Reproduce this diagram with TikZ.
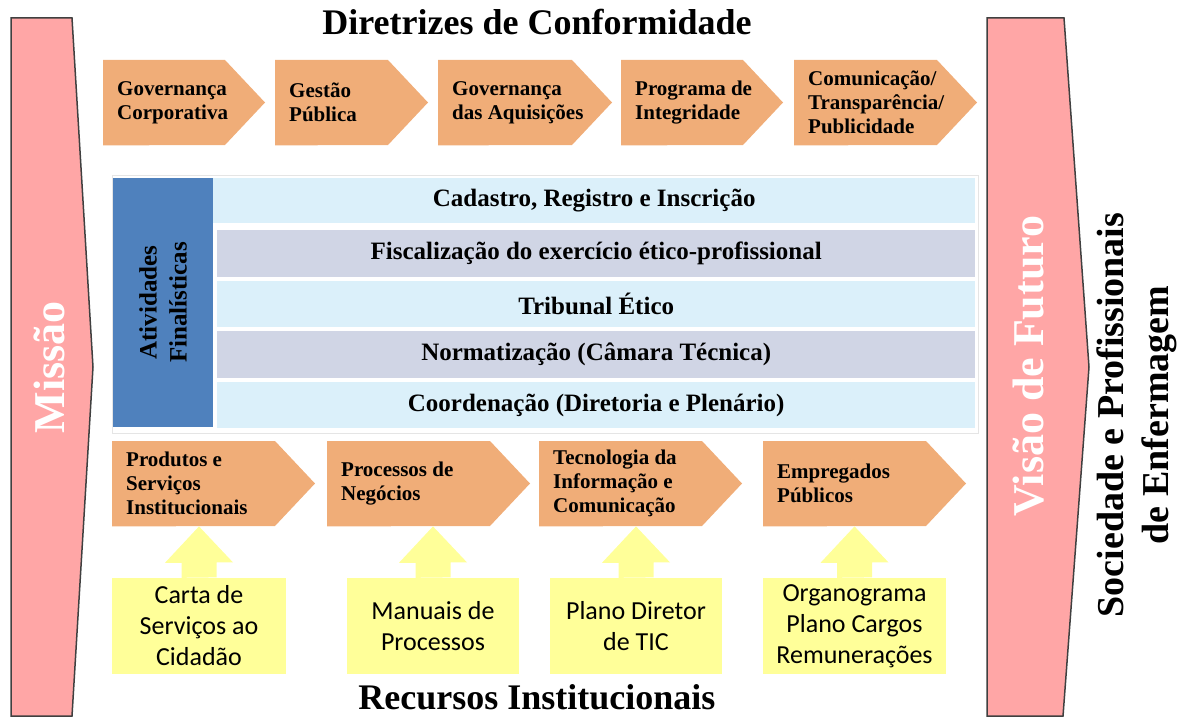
\documentclass[tikz,border=0pt]{standalone}
\usepackage{fontspec}
\setmainfont{Liberation Serif}
\newfontfamily\calibfont{Carlito}
\usetikzlibrary{backgrounds}

\definecolor{rosa}{HTML}{FFA6A6}
\definecolor{borda}{HTML}{404040}
\definecolor{laranja}{HTML}{F0AD78}
\definecolor{amarelo}{HTML}{FFFF99}
\definecolor{azul}{HTML}{4F81BD}
\definecolor{claro}{HTML}{DBF0FA}
\definecolor{escuro}{HTML}{D0D5E5}

\begin{document}
\begin{tikzpicture}[x=1pt,y=-1pt]

\tikzstyle lateral=[rotate=90, text=white, font=\bfseries\fontsize{44}{50}\selectfont]
\tikzstyle titulo=[anchor=base, inner sep=0, font=\bfseries\fontsize{36}{40}\selectfont]
\tikzstyle chev=[anchor=north west, minimum height=85, inner xsep=14, inner ysep=0, align=left, font=\bfseries\fontsize{21}{24}\selectfont]
\tikzstyle linha=[anchor=north west, inner sep=0, font=\bfseries\fontsize{25}{30}\selectfont]
\tikzstyle recurso=[minimum height=96, inner sep=0, fill=amarelo, align=center, font=\calibfont\fontsize{26}{31}\selectfont]

\useasboundingbox (0,0) rectangle (1180,717);

% setas laterais
\filldraw[fill=rosa, draw=borda, line width=1.5] (11,18) -- (72,18) -- (93,367) -- (72,716) -- (11,716) -- cycle;
\filldraw[fill=rosa, draw=borda, line width=1.5] (987,18) -- (1064,18) -- (1089,367) -- (1063,716) -- (987,716) -- cycle;
\node (missao) [lateral] at (49,367) {Missão};
\node (visao) [lateral] at (1028,366) {Visão de Futuro};
\node (sociedade) [rotate=90, align=center, font=\bfseries\fontsize{38}{45}\selectfont] at (1137,415) {Sociedade e Profissionais\\de Enfermagem};

\node (diretrizes) [titulo] at (537,35) {Diretrizes de Conformidade};
\node (recursos) [titulo] at (537,709) {Recursos Institucionais};

% diretrizes
\node (d1) [chev] at (103,60) {Governança\\Corporativa};
\node (d2) [chev] at (275,60) {Gestão\\Pública};
\node (d3) [chev] at (438,60) {Governança\\das Aquisições};
\node (d4) [chev] at (621,60) {Programa de\\Integridade};
\node (d5) [chev] at (794,60) {Comunicação/\\Transparência/\\Publicidade};

% atividades finalisticas
\draw[gray!20] (112,175) rectangle (978,433);
\node (ativ) [rotate=90, minimum width=249, minimum height=100, fill=azul, align=center, font=\bfseries\fontsize{25}{30}\selectfont] at (163,302.5) {Atividades\\Finalísticas};
\node (r1) [linha, fill=claro, minimum width=762, minimum height=45] at (213,178) {Cadastro, Registro e Inscrição};
\node (r2) [linha, fill=escuro, minimum width=758, minimum height=47] at (217,230) {Fiscalização do exercício ético-profissional};
\node (r3) [linha, fill=claro, minimum width=758, minimum height=46] at (217,281) {Tribunal Ético};
\node (r4) [linha, fill=escuro, minimum width=758, minimum height=47] at (217,331) {Normatização (Câmara Técnica)};
\node (r5) [linha, fill=claro, minimum width=758, minimum height=46] at (217,382) {Coordenação (Diretoria e Plenário)};

% recursos
\node (p1) [chev] at (112,441) {Produtos e\\Serviços\\Institucionais};
\node (p2) [chev] at (327,441) {Processos de\\Negócios};
\node (p3) [chev] at (539,441) {Tecnologia da\\Informação e\\Comunicação};
\node (p4) [chev] at (763,441) {Empregados\\Públicos};

\node (y1) [recurso, minimum width=174] at (199,626) {Carta de\\Serviços ao\\Cidadão};
\node (y2) [recurso, minimum width=172] at (433,626) {Manuais de\\Processos};
\node (y3) [recurso, minimum width=172] at (636,626) {Plano Diretor\\de TIC};
\node (y4) [recurso, minimum width=183] at (854.5,626) {Organograma\\Plano Cargos\\Remunerações};

\foreach \a/\b in {y1/p1, y2/p2, y3/p3, y4/p4}
  \fill[amarelo] ([xshift=-17.5]\a.north) -- ++(0,-15) -- ++(-16.5,0) -- (\a.north |- \b.south) -- ++(34,36) -- ++(-16.5,0) -- ++(0,15) -- cycle;

\begin{pgfonlayer}{background}
\foreach \n/\w in {d1/122, d2/113, d3/134, d4/122, d5/143, p1/163, p2/163, p3/163, p4/163}
  \fill[laranja] (\n.north west) -- ++(\w,0) -- ++(40,42.5) -- ++(-40,42.5) -- (\n.south west) -- cycle;
\end{pgfonlayer}

\end{tikzpicture}
\end{document}
